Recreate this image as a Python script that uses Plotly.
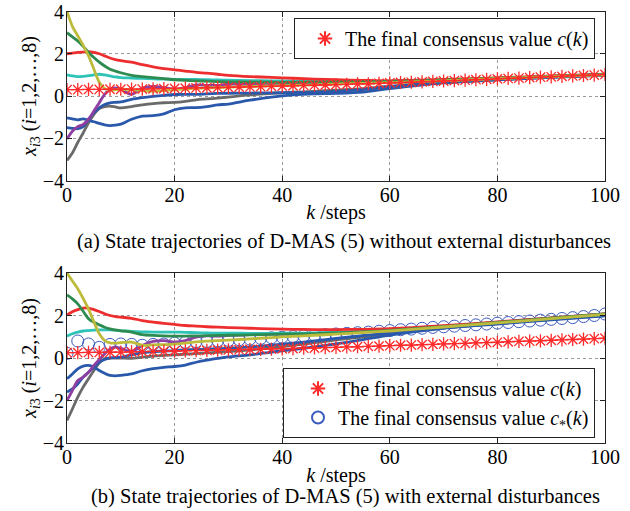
import plotly.graph_objects as go

# ---------------- data ----------------
K = [0, 1, 2, 3, 4, 5, 6, 7, 8, 9, 10, 12, 14, 16, 18, 20, 22, 24, 26, 28, 30,
     34, 38, 42, 46, 50, 55, 60, 70, 80, 90, 100]

# (a) without disturbances
a_yellow = [4.0, 3.3, 2.85, 2.4, 1.9, 1.27, 0.65, 0.35, 0.28, 0.3, 0.32, 0.3, 0.25, 0.22, 0.25, 0.3, 0.33, 0.36,
            0.38, 0.4, 0.42, 0.45, 0.48, 0.5, 0.53, 0.56, 0.6, 0.63, 0.72, 0.82, 0.92, 1.0]
a_green = [3.0, 2.8, 2.6, 2.35, 2.06, 1.82, 1.6, 1.42, 1.27, 1.18, 1.1, 0.98, 0.92, 0.87, 0.82, 0.77, 0.74, 0.72,
           0.7, 0.68, 0.67, 0.66, 0.65, 0.65, 0.66, 0.67, 0.68, 0.7, 0.76, 0.84, 0.93, 1.02]
a_red = [2.0, 2.03, 2.06, 2.08, 2.1, 2.06, 2.0, 1.9, 1.8, 1.72, 1.67, 1.6, 1.48, 1.38, 1.3, 1.24, 1.18, 1.12,
         1.08, 1.03, 0.98, 0.92, 0.88, 0.84, 0.8, 0.77, 0.74, 0.72, 0.78, 0.86, 0.95, 1.04]
a_cyan = [1.0, 0.95, 0.92, 0.93, 0.96, 1.0, 1.03, 1.0, 0.95, 0.9, 0.87, 0.85, 0.83, 0.81, 0.8, 0.79, 0.78, 0.78,
          0.77, 0.76, 0.75, 0.73, 0.72, 0.7, 0.69, 0.68, 0.68, 0.69, 0.75, 0.84, 0.93, 1.02]
a_purple = [-2.03, -1.67, -1.45, -1.35, -1.1, -0.71, -0.32, 0.08, 0.3, 0.38, 0.32, 0.08, 0.38, 0.45, 0.4, 0.32,
            0.4, 0.52, 0.5, 0.5, 0.56, 0.55, 0.54, 0.56, 0.58, 0.6, 0.62, 0.65, 0.74, 0.83, 0.93, 1.02]
a_blue1 = [-1.03, -1.08, -1.13, -1.08, -1.15, -1.22, -1.3, -1.37, -1.4, -1.38, -1.33, -1.1, -0.95, -0.93, -0.85,
           -0.65, -0.56, -0.55, -0.5, -0.42, -0.38, -0.2, -0.05, 0.05, 0.1, 0.12, 0.18, 0.35, 0.62, 0.76, 0.88, 0.98]
a_blue2 = [-1.5, -1.53, -1.55, -1.45, -1.1, -0.8, -0.56, -0.4, -0.32, -0.3, -0.28, -0.16, -0.08, -0.02, 0.03,
           0.07, 0.08, 0.08, 0.1, 0.12, 0.13, 0.14, 0.15, 0.16, 0.18, 0.22, 0.3, 0.45, 0.66, 0.78, 0.9, 1.0]
a_grey = [-3.05, -2.7, -2.2, -1.75, -1.27, -0.87, -0.6, -0.5, -0.48, -0.52, -0.56, -0.5, -0.42, -0.36, -0.32,
          -0.3, -0.25, -0.18, -0.14, -0.1, -0.05, 0.05, 0.12, 0.18, 0.22, 0.28, 0.35, 0.45, 0.65, 0.78, 0.9, 1.0]

# (b) with disturbances
b_yellow = [4.0, 3.62, 3.26, 2.8, 2.3, 1.7, 1.14, 0.82, 0.71, 0.7, 0.72, 0.75, 0.6, 0.62, 0.63, 0.65, 0.7, 0.76,
            0.79, 0.82, 0.84, 0.9, 0.96, 1.02, 1.07, 1.12, 1.2, 1.27, 1.46, 1.65, 1.85, 2.05]
b_green = [2.97, 2.78, 2.55, 2.2, 1.85, 1.68, 1.56, 1.45, 1.37, 1.32, 1.28, 1.22, 1.1, 1.06, 1.04, 1.03, 1.03,
           1.04, 1.05, 1.06, 1.07, 1.09, 1.11, 1.13, 1.15, 1.18, 1.23, 1.3, 1.48, 1.67, 1.87, 2.07]
b_red = [2.03, 2.18, 2.28, 2.35, 2.35, 2.28, 2.19, 2.08, 2.0, 1.95, 1.92, 1.87, 1.76, 1.69, 1.63, 1.58, 1.53, 1.5,
         1.47, 1.45, 1.43, 1.4, 1.37, 1.35, 1.34, 1.34, 1.35, 1.38, 1.52, 1.7, 1.89, 2.08]
b_cyan = [1.03, 1.14, 1.22, 1.27, 1.29, 1.31, 1.32, 1.32, 1.32, 1.3, 1.29, 1.25, 1.23, 1.22, 1.22, 1.22, 1.21,
          1.19, 1.18, 1.17, 1.17, 1.16, 1.16, 1.17, 1.18, 1.2, 1.24, 1.3, 1.48, 1.67, 1.87, 2.06]
b_purple = [-2.0, -1.53, -1.06, -0.9, -0.67, -0.35, -0.07, 0.2, 0.43, 0.51, 0.46, 0.3, 0.59, 0.78, 0.82, 0.75,
            0.82, 0.98, 1.04, 1.03, 1.06, 1.1, 1.12, 1.14, 1.16, 1.19, 1.24, 1.3, 1.49, 1.68, 1.88, 2.08]
b_blue1 = [-0.98, -0.75, -0.51, -0.38, -0.35, -0.43, -0.59, -0.72, -0.82, -0.84, -0.82, -0.75, -0.6, -0.5, -0.44,
           -0.4, -0.33, -0.2, -0.1, -0.02, 0.05, 0.15, 0.28, 0.4, 0.52, 0.66, 0.86, 1.08, 1.4, 1.6, 1.8, 1.98]
b_blue2 = [-1.6, -1.45, -1.22, -0.9, -0.67, -0.43, -0.2, -0.07, 0.0, 0.02, 0.04, 0.15, 0.24, 0.3, 0.33, 0.35,
           0.38, 0.4, 0.42, 0.44, 0.46, 0.52, 0.6, 0.7, 0.8, 0.92, 1.05, 1.18, 1.42, 1.62, 1.82, 2.0]
b_grey = [-2.94, -2.4, -1.84, -1.37, -0.98, -0.59, -0.22, -0.03, 0.0, 0.0, 0.0, -0.02, 0.04, 0.09, 0.12, 0.15,
          0.18, 0.21, 0.24, 0.27, 0.3, 0.38, 0.48, 0.6, 0.72, 0.85, 1.0, 1.15, 1.42, 1.63, 1.83, 2.02]

# consensus values, sampled every 2 steps
KC = list(range(0, 101, 2))
a_c = [0.3, 0.3, 0.31, 0.31, 0.32, 0.32, 0.33, 0.33, 0.34, 0.35, 0.36, 0.37, 0.38, 0.39, 0.4, 0.41, 0.42,
       0.43, 0.44, 0.46, 0.47, 0.48, 0.5, 0.51, 0.52, 0.54, 0.55, 0.57, 0.58, 0.6, 0.62, 0.64, 0.65, 0.67,
       0.69, 0.71, 0.73, 0.75, 0.77, 0.79, 0.81, 0.83, 0.85, 0.87, 0.89, 0.91, 0.93, 0.95, 0.97, 0.99, 1.02]
b_c = [0.25, 0.25, 0.26, 0.26, 0.27, 0.28, 0.29, 0.3, 0.31, 0.32, 0.33, 0.34, 0.35, 0.36, 0.37, 0.38, 0.39,
       0.4, 0.41, 0.42, 0.43, 0.44, 0.46, 0.47, 0.49, 0.5, 0.52, 0.53, 0.55, 0.56, 0.58, 0.6, 0.61, 0.63,
       0.64, 0.66, 0.68, 0.69, 0.71, 0.72, 0.74, 0.76, 0.78, 0.79, 0.81, 0.83, 0.85, 0.87, 0.89, 0.91, 0.93]
b_cstar = [0.22, 0.8, 0.66, 0.5, 0.64, 0.66, 0.64, 0.6, 0.64, 0.66, 0.7, 0.74, 0.77, 0.78, 0.81, 0.83, 0.86,
           0.89, 0.92, 0.95, 0.98, 1.01, 1.04, 1.07, 1.1, 1.13, 1.16, 1.19, 1.22, 1.26, 1.29, 1.33, 1.36, 1.4,
           1.44, 1.47, 1.5, 1.53, 1.56, 1.6, 1.64, 1.67, 1.71, 1.74, 1.78, 1.82, 1.86, 1.9, 1.95, 2.0, 2.07]

X_TICKS = [0, 20, 40, 60, 80, 100]
Y_TICKS = [-4, -2, 0, 2, 4]

# ---------------- styles ----------------
FONT = "Liberation Serif"
COL = {"yellow": "#BDBB3C", "green": "#2E8B50", "red": "#EE2E2E", "cyan": "#2FC2B6",
       "purple": "#8E3FA2", "blue1": "#2A58AA", "blue2": "#2A58AA", "grey": "#6A6A6A"}
ORDER = ["grey", "blue2", "blue1", "purple", "cyan", "red", "green", "yellow"]
CRED = "#FF2A2A"
CBLUE = "#3C5CC0"

agents_a = {"yellow": a_yellow, "green": a_green, "red": a_red, "cyan": a_cyan,
            "purple": a_purple, "blue1": a_blue1, "blue2": a_blue2, "grey": a_grey}
agents_b = {"yellow": b_yellow, "green": b_green, "red": b_red, "cyan": b_cyan,
            "purple": b_purple, "blue1": b_blue1, "blue2": b_blue2, "grey": b_grey}

fig = go.Figure()

# --- panel (a)
for name in ORDER:
    fig.add_trace(go.Scatter(x=K, y=agents_a[name], mode="lines", xaxis="x", yaxis="y",
                             line=dict(color=COL[name], width=2.8, shape="spline", smoothing=0.8),
                             showlegend=False, hoverinfo="skip"))
fig.add_trace(go.Scatter(x=KC, y=a_c, mode="lines", xaxis="x", yaxis="y",
                         line=dict(color=CRED, width=1), showlegend=False))
fig.add_trace(go.Scatter(x=KC, y=a_c, mode="markers", xaxis="x", yaxis="y",
                         marker=dict(symbol="asterisk-open", size=11, color=CRED,
                                     line=dict(color=CRED, width=1.3)),
                         name="The final consensus value <i>c</i>(<i>k</i>)", legend="legend"))

# --- panel (b)
fig.add_trace(go.Scatter(x=KC, y=b_cstar, mode="markers", xaxis="x2", yaxis="y2",
                         marker=dict(symbol="circle-open", size=12, color=CBLUE,
                                     line=dict(color=CBLUE, width=1)),
                         name="The final consensus value <i>c</i><sub>*</sub>(<i>k</i>)",
                         legend="legend2", legendrank=2))
for name in ORDER:
    fig.add_trace(go.Scatter(x=K, y=agents_b[name], mode="lines", xaxis="x2", yaxis="y2",
                             line=dict(color=COL[name], width=2.8, shape="spline", smoothing=0.8),
                             showlegend=False, hoverinfo="skip"))
fig.add_trace(go.Scatter(x=KC, y=b_c, mode="lines", xaxis="x2", yaxis="y2",
                         line=dict(color=CRED, width=1), showlegend=False))
fig.add_trace(go.Scatter(x=KC, y=b_c, mode="markers", xaxis="x2", yaxis="y2",
                         marker=dict(symbol="asterisk-open", size=11, color=CRED,
                                     line=dict(color=CRED, width=1.3)),
                         name="The final consensus value <i>c</i>(<i>k</i>)",
                         legend="legend2", legendrank=1))

W, H = 630, 511
xdom = [67 / W, 605 / W]
ydom_a = [(H - 180.5) / H, (H - 11.5) / H]
ydom_b = [(H - 443) / H, (H - 273) / H]

ax_common = dict(showline=True, linecolor="#222", linewidth=1, mirror="ticks",
                 ticks="inside", ticklen=5, tickcolor="#222", automargin=False,
                 showgrid=True, gridcolor="#9a9a9a", griddash="dot", gridwidth=1,
                 zeroline=False, tickfont=dict(family=FONT, size=20, color="black"))
xtitle = dict(text="<i>k</i> /steps", font=dict(family=FONT, size=20, color="black"), standoff=0)
ytitle = dict(text="<i>x</i><sub><i>i</i>3</sub> (<i>i</i>=1,2,…,8)",
              font=dict(family=FONT, size=20, color="black"), standoff=0)

legend_common = dict(bgcolor="white", bordercolor="#222", borderwidth=1,
                     font=dict(family=FONT, size=20, color="black"),
                     xanchor="left", yanchor="top", itemsizing="constant")

fig.update_layout(
    width=W, height=H, margin=dict(l=0, r=0, t=0, b=0, autoexpand=False),
    paper_bgcolor="white", plot_bgcolor="white",
    xaxis=dict(domain=xdom, range=[0, 100], tickvals=X_TICKS, anchor="y", title=xtitle,
               ticklabelstandoff=-4, **ax_common),
    yaxis=dict(domain=ydom_a, range=[-4, 4], tickvals=Y_TICKS, anchor="x", title=ytitle,
               ticklabelstandoff=-2, **ax_common),
    xaxis2=dict(domain=xdom, range=[0, 100], tickvals=X_TICKS, anchor="y2", title=xtitle,
                ticklabelstandoff=-4, **ax_common),
    yaxis2=dict(domain=ydom_b, range=[-4, 4], tickvals=Y_TICKS, anchor="x2", title=ytitle,
                ticklabelstandoff=-2, **ax_common),
    legend=dict(x=294 / W, y=(H - 18) / H, indentation=10, **legend_common),
    legend2=dict(x=283 / W, y=(H - 368) / H, indentation=14, traceorder="normal", **legend_common),
    annotations=[
        dict(text="(a) State trajectories of D-MAS (5) without external disturbances",
             x=344 / W, y=(H - 241) / H, xref="paper", yref="paper", showarrow=False,
             xanchor="center", yanchor="middle",
             font=dict(family=FONT, size=20.5, color="black")),
        dict(text="(b) State trajectories of D-MAS (5) with external disturbances",
             x=345 / W, y=(H - 496) / H, xref="paper", yref="paper", showarrow=False,
             xanchor="center", yanchor="middle",
             font=dict(family=FONT, size=20.5, color="black")),
    ],
)

fig.write_html("out.html")
